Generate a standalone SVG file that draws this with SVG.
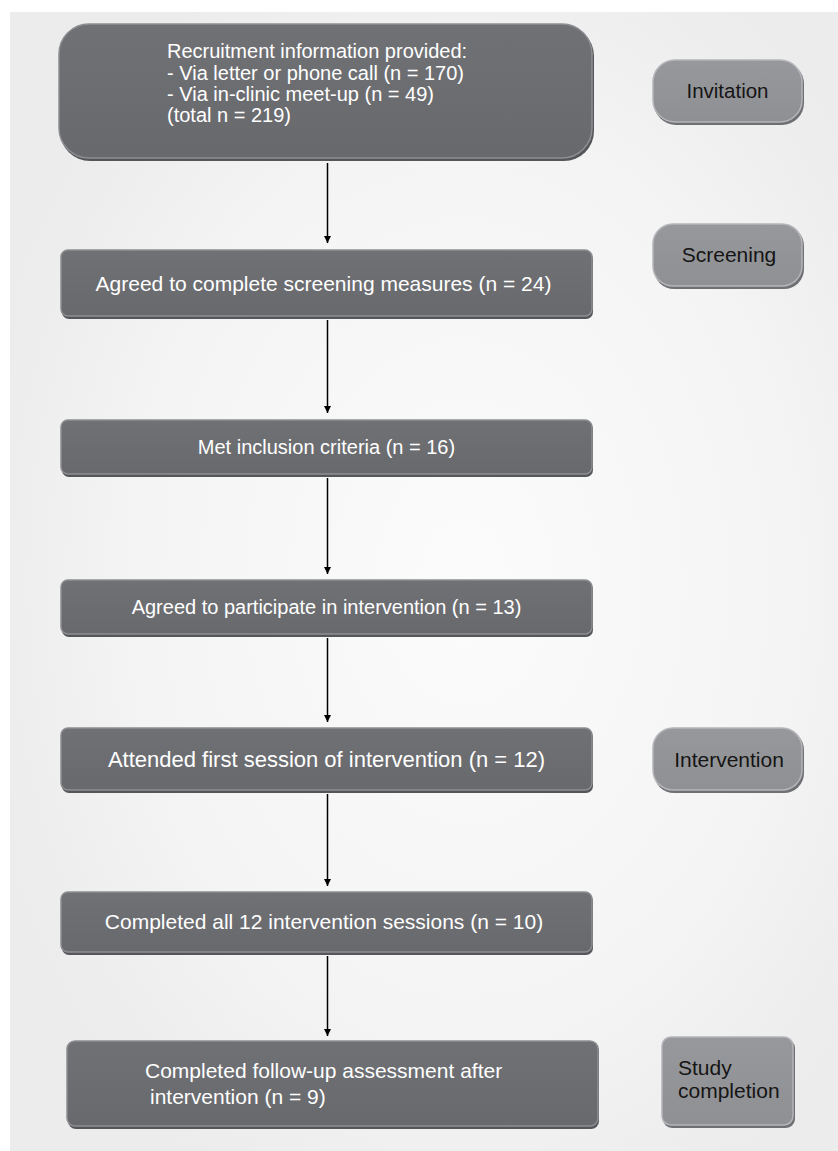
<svg xmlns="http://www.w3.org/2000/svg" width="838" height="1151" viewBox="0 0 838 1151">
<defs>
<radialGradient id="bg" cx="0.55" cy="0.5" r="0.6">
<stop offset="0" stop-color="#fbfbfb"/>
<stop offset="0.6" stop-color="#f5f5f5"/>
<stop offset="1" stop-color="#ececec"/>
</radialGradient>
<linearGradient id="dk" x1="0" y1="0" x2="0" y2="1">
<stop offset="0" stop-color="#707175"/>
<stop offset="1" stop-color="#68696d"/>
</linearGradient>
<linearGradient id="lt" x1="0" y1="0" x2="0" y2="1">
<stop offset="0" stop-color="#97989b"/>
<stop offset="1" stop-color="#8f9093"/>
</linearGradient>
<marker id="ah" viewBox="0 0 10 10" refX="10" refY="5" markerWidth="9" markerHeight="7" markerUnits="userSpaceOnUse" orient="auto">
<path d="M0,0 L10,5 L0,10 Z" fill="#000"/>
</marker>
</defs>
<style>
.sh{fill:#555659}
.main{fill:url(#dk);stroke:#8d8e91;stroke-width:1.5}
.lab{fill:url(#lt);stroke:#b4b5b8;stroke-width:1.5}
.lsh{fill:#6f7073}
.t{font-family:"Liberation Sans",Arial,sans-serif;font-size:20px;fill:#ffffff}
.t2{font-family:"Liberation Sans",Arial,sans-serif;font-size:21px;fill:#ffffff}
.tl{font-family:"Liberation Sans",Arial,sans-serif;font-size:21px;fill:#151515}
.c{stroke:#000;stroke-width:1.5;fill:none;marker-end:url(#ah)}
</style>
<rect x="0" y="0" width="838" height="1151" fill="#ffffff"/>
<rect x="10" y="12" width="828" height="1139" fill="url(#bg)"/>

<g id="n1">
<rect class="sh" x="60" y="26" width="534" height="135" rx="30"/>
<rect class="main" x="59" y="24" width="533" height="134" rx="30"/>
<text class="t" x="167" y="58">Recruitment information provided:</text>
<text class="t" x="167" y="80">- Via letter or phone call (n = 170)</text>
<text class="t" x="167" y="101">- Via in-clinic meet-up (n = 49)</text>
<text class="t" x="167" y="122">(total n = 219)</text>
</g>

<g id="n2">
<rect class="sh" x="62" y="252" width="531" height="67" rx="7"/>
<rect class="main" x="61" y="250" width="531" height="66" rx="7"/>
<text class="t2" x="323.5" y="291" text-anchor="middle">Agreed to complete screening measures (n = 24)</text>
</g>

<g id="n3">
<rect class="sh" x="62" y="422" width="531" height="55" rx="7"/>
<rect class="main" x="61" y="420" width="531" height="54" rx="7"/>
<text class="t" x="326.5" y="454" text-anchor="middle">Met inclusion criteria (n = 16)</text>
</g>

<g id="n4">
<rect class="sh" x="62" y="582" width="531" height="55" rx="7"/>
<rect class="main" x="61" y="580" width="531" height="54" rx="7"/>
<text class="t" x="326.5" y="614" text-anchor="middle">Agreed to participate in intervention (n = 13)</text>
</g>

<g id="n5">
<rect class="sh" x="62" y="730" width="531" height="63" rx="7"/>
<rect class="main" x="61" y="728" width="531" height="62" rx="7"/>
<text class="t" x="326.5" y="767" text-anchor="middle" style="font-size:22px">Attended first session of intervention (n = 12)</text>
</g>

<g id="n6">
<rect class="sh" x="62" y="894" width="531" height="61" rx="7"/>
<rect class="main" x="61" y="892" width="531" height="60" rx="7"/>
<text class="t2" x="324" y="929" text-anchor="middle">Completed all 12 intervention sessions (n = 10)</text>
</g>

<g id="n7">
<rect class="sh" x="68" y="1043" width="531" height="86" rx="8"/>
<rect class="main" x="67" y="1041" width="531" height="85" rx="8"/>
<text class="t2" x="145" y="1078">Completed follow-up assessment after</text>
<text class="t2" x="150" y="1104">intervention (n = 9)</text>
</g>

<g id="l1">
<rect class="lsh" x="654" y="62" width="150" height="63" rx="22"/>
<rect class="lab" x="653" y="60" width="149" height="62" rx="22"/>
<text class="tl" x="727.5" y="98" text-anchor="middle" style="font-size:20.5px">Invitation</text>
</g>

<g id="l2">
<rect class="lsh" x="654" y="226" width="150" height="63" rx="20"/>
<rect class="lab" x="653" y="224" width="149" height="62" rx="20"/>
<text class="tl" x="729" y="262" text-anchor="middle">Screening</text>
</g>

<g id="l3">
<rect class="lsh" x="654" y="730" width="150" height="63" rx="20"/>
<rect class="lab" x="653" y="728" width="149" height="62" rx="20"/>
<text class="tl" x="729" y="767" text-anchor="middle">Intervention</text>
</g>

<g id="l4">
<rect class="lsh" x="663" y="1039" width="132" height="89" rx="9"/>
<rect class="lab" x="662" y="1037" width="131" height="88" rx="9"/>
<text class="tl" x="678" y="1075">Study</text>
<text class="tl" x="678" y="1098">completion</text>
</g>

<g id="connectors">
<line class="c" x1="327.5" y1="163" x2="327.5" y2="243"/>
<line class="c" x1="327.5" y1="320" x2="327.5" y2="413"/>
<line class="c" x1="327.5" y1="478" x2="327.5" y2="574"/>
<line class="c" x1="327.5" y1="638" x2="327.5" y2="722"/>
<line class="c" x1="327.5" y1="794" x2="327.5" y2="886"/>
<line class="c" x1="327.5" y1="956" x2="327.5" y2="1036"/>
</g>
</svg>
